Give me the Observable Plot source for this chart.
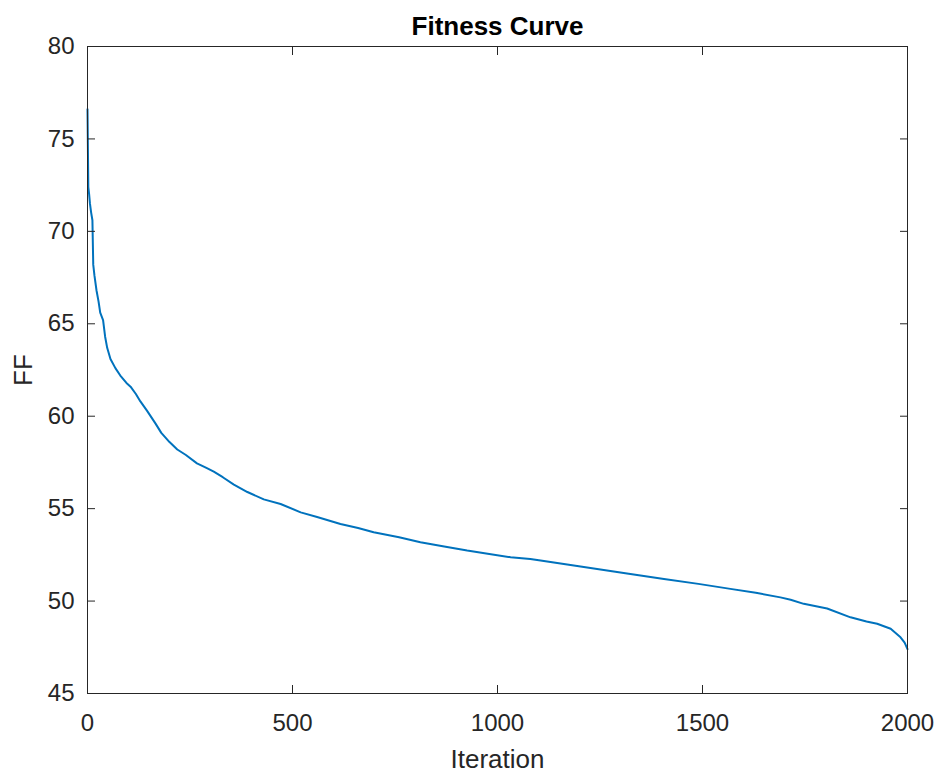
<!DOCTYPE html>
<html>
<head>
<meta charset="utf-8">
<script src="https://cdn.jsdelivr.net/npm/d3@7"></script>
<script src="https://cdn.jsdelivr.net/npm/@observablehq/plot@0.6"></script>
<style>
  html, body { margin: 0; padding: 0; background: #ffffff; }
  #chart { width: 941px; height: 776px; }
</style>
</head>
<body>
<div id="chart"></div>
<script>
// Fitness curve data
const iterations = [0, 1, 2, 4, 6, 9, 12, 14, 17, 22, 27, 31, 38, 43, 48, 56, 68, 80, 95, 105, 118, 129, 145, 166, 180, 200, 219, 240, 267, 290, 308, 330, 357, 390, 430, 471, 520, 560, 617, 660, 698, 760, 812, 870, 926, 980, 1032, 1080, 1105, 1170, 1243, 1320, 1406, 1490, 1568, 1630, 1690, 1715, 1747, 1804, 1861, 1900, 1926, 1959, 1983, 1993, 2000];
const fitness   = [76.6, 74.5, 72.4, 72.0, 71.5, 71.0, 70.6, 68.2, 67.6, 66.8, 66.2, 65.6, 65.2, 64.3, 63.7, 63.1, 62.6, 62.2, 61.8, 61.6, 61.2, 60.8, 60.3, 59.6, 59.1, 58.6, 58.2, 57.9, 57.45, 57.2, 57.0, 56.7, 56.3, 55.9, 55.5, 55.25, 54.8, 54.55, 54.17, 53.95, 53.72, 53.45, 53.18, 52.95, 52.73, 52.55, 52.37, 52.28, 52.19, 51.98, 51.74, 51.48, 51.2, 50.93, 50.66, 50.45, 50.2, 50.07, 49.85, 49.6, 49.12, 48.9, 48.77, 48.5, 48.04, 47.75, 47.4];
const xTicks = [0, 500, 1000, 1500, 2000];
const yTicks = [45, 50, 55, 60, 65, 70, 75, 80];
const titleText = "Fitness Curve";
const xLabel = "Iteration";
const yLabel = "FF";

const data = iterations.map((it, i) => ({iteration: it, ff: fitness[i]}));
const ink = "#262626";
const noText = () => "";

const chart = Plot.plot({
  width: 941,
  height: 776,
  marginLeft: 87,
  marginRight: 34,
  marginTop: 46,
  marginBottom: 83,
  style: {fontFamily: "'Liberation Sans', Arial, Helvetica, sans-serif", fontSize: "24px", color: ink, background: "#ffffff", overflow: "visible"},
  x: {domain: [0, 2000]},
  y: {domain: [45, 80]},
  marks: [
    Plot.line(data, {x: "iteration", y: "ff", stroke: "#0072BD", strokeWidth: 2}),
    Plot.frame({stroke: ink, strokeWidth: 1}),
    // tick labels
    Plot.axisX({ticks: xTicks, tickSize: 0, tickPadding: 20, tickFormat: d => String(d), label: null, fill: ink}),
    Plot.axisY({ticks: yTicks, tickSize: 0, tickPadding: 13, tickFormat: d => String(d), label: null, fill: ink}),
    // inward ticks on all four sides
    Plot.axisX({anchor: "bottom", ticks: xTicks, tickSize: -8, tickFormat: noText, label: null, stroke: ink}),
    Plot.axisX({anchor: "top", ticks: xTicks, tickSize: -8, tickFormat: noText, label: null, stroke: ink}),
    Plot.axisY({anchor: "left", ticks: yTicks, tickSize: -8, tickFormat: noText, label: null, stroke: ink}),
    Plot.axisY({anchor: "right", ticks: yTicks, tickSize: -8, tickFormat: noText, label: null, stroke: ink}),
    // axis titles and chart title
    Plot.text([xLabel], {text: d => d, frameAnchor: "bottom", lineAnchor: "middle", textAnchor: "middle", dy: 66, fontSize: 26, fill: ink}),
    Plot.text([yLabel], {text: d => d, frameAnchor: "left", lineAnchor: "middle", textAnchor: "middle", dx: -64, rotate: -90, fontSize: 26, fill: ink}),
    Plot.text([titleText], {text: d => d, frameAnchor: "top", lineAnchor: "middle", textAnchor: "middle", dy: -20, fontSize: 26, fontWeight: "bold", fill: "#000000"})
  ]
});
document.getElementById("chart").appendChild(chart);
</script>
</body>
</html>
